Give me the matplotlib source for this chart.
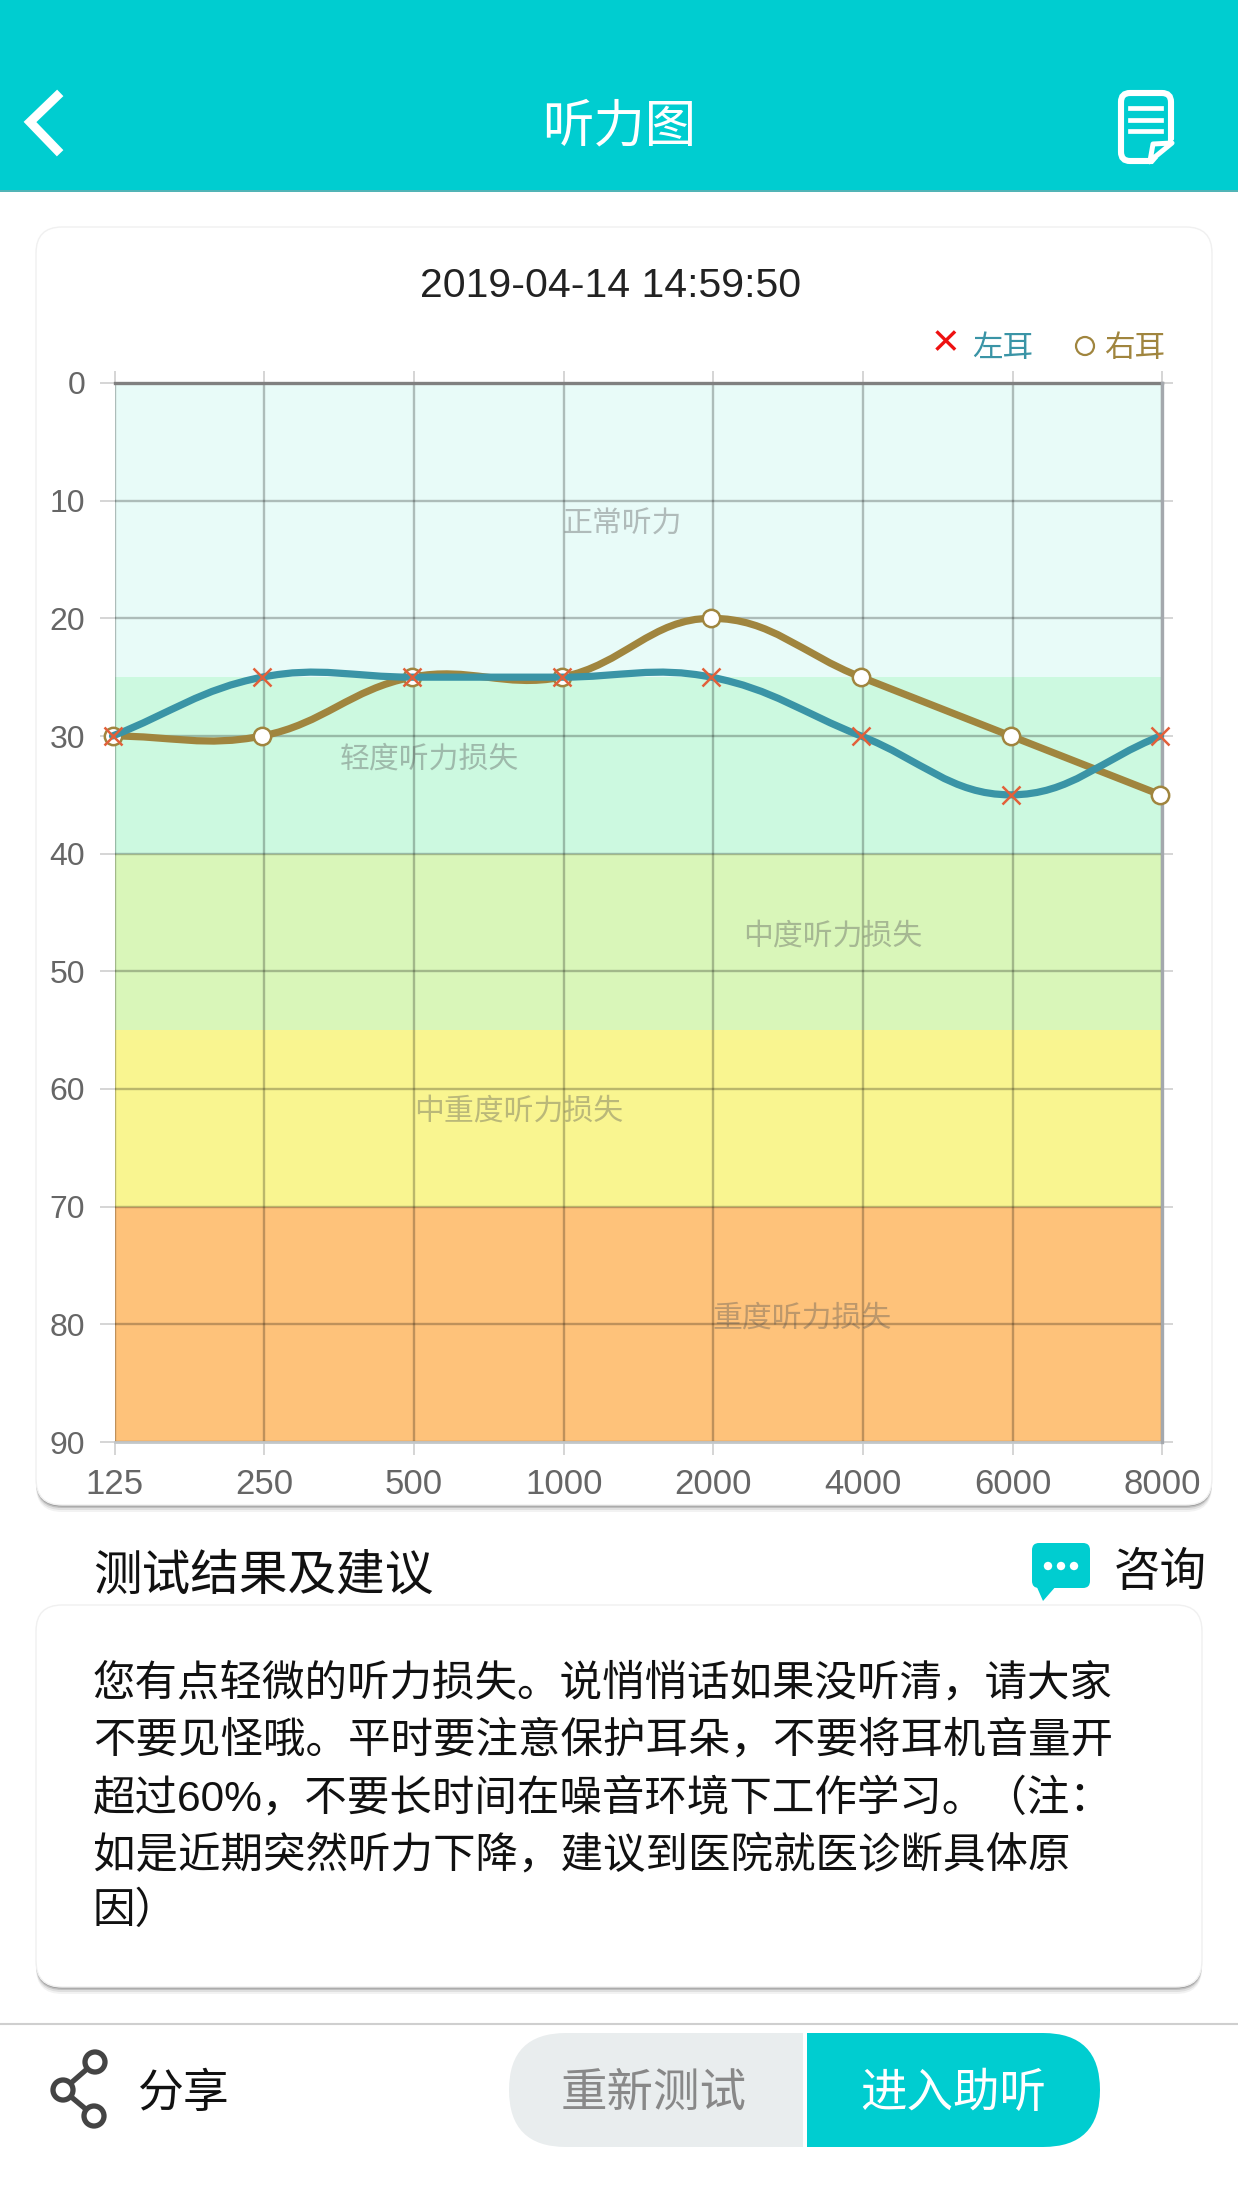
import matplotlib
matplotlib.use("Agg")
import matplotlib.pyplot as plt
from matplotlib.patches import FancyBboxPatch, PathPatch, Circle, Rectangle, Polygon
from matplotlib.path import Path
from matplotlib.transforms import Affine2D

plt.rcParams['font.family'] = ['Liberation Sans', 'Noto Sans CJK SC', 'DejaVu Sans']

# ---------- data ----------
freqs = ['125', '250', '500', '1000', '2000', '4000', '6000', '8000']
left_ear = [30, 25, 25, 25, 25, 30, 35, 30]
right_ear = [30, 30, 25, 25, 20, 25, 30, 35]
band_edges = [0, 25, 40, 55, 70, 90]
band_names = ['正常听力', '轻度听力损失', '中度听力损失', '中重度听力损失', '重度听力损失']
band_colors = ['#e8fbf8', '#ccf9e0', '#d9f6b9', '#f9f590', '#fec27a']
y_ticks = [0, 10, 20, 30, 40, 50, 60, 70, 80, 90]
advice_lines = [
    '您有点轻微的听力损失。说悄悄话如果没听清\uff0c请大家',
    '不要见怪哦。平时要注意保护耳朵\uff0c不要将耳机音量开',
    '超过60%\uff0c不要长时间在噪音环境下工作学习。\uff08注\uff1a',
    '如是近期突然听力下降\uff0c建议到医院就医诊断具体原',
    '因\uff09',
]
title = '听力图'
stamp = '2019-04-14 14:59:50'

# ---------- style / layout ----------
W, H = 1238, 2204
TEAL = '#00cdd0'
LINE_L = '#3a94a6'
LINE_R = '#a0853e'
MARK_X = '#e2603a'
PX_L, PX_R, PX_T, PX_B = 114.5, 1162.5, 383, 1442
band_label_xy = [(622, 525), (429, 760), (833, 937), (519, 1112), (802, 1319)]
advice_y = [1684, 1741, 1799, 1856, 1912]

fig = plt.figure(figsize=(W / 100, H / 100), dpi=100, facecolor='white')
bg = fig.add_axes([0, 0, 1, 1], zorder=0)
bg.set_xlim(0, W)
bg.set_ylim(H, 0)
bg.axis('off')


def card(x0, y0, x1, y1, r=26):
    for off, a in [(7, 0.05), (5, 0.08), (3, 0.14), (1.5, 0.2)]:
        bg.add_patch(FancyBboxPatch((x0 + r, y0 + r + off), x1 - x0 - 2 * r, y1 - y0 - 2 * r,
                                    boxstyle=f'round,pad={r},rounding_size={r}',
                                    fc='black', ec='none', alpha=a))
    bg.add_patch(FancyBboxPatch((x0 + r, y0 + r), x1 - x0 - 2 * r, y1 - y0 - 2 * r,
                                boxstyle=f'round,pad={r},rounding_size={r}',
                                fc='white', ec='#f0f0f0', lw=1))


# header
bg.add_patch(Rectangle((0, 0), W, 190, fc=TEAL, ec='none'))
bg.plot([0, W], [191, 191], color='#2fa6a8', lw=1.2)
bg.text(619, 128, title, color='white', fontsize=37, ha='center', va='center')
bg.plot([57, 30, 57], [96, 122, 150], color='white', lw=6.5, solid_joinstyle='miter')
bg.add_patch(FancyBboxPatch((1121, 93), 50, 68, boxstyle='round,pad=0,rounding_size=9',
                            fc='none', ec='white', lw=4.4))
for yy in [108, 120, 131]:
    bg.plot([1130, 1161], [yy, yy], color='white', lw=3.4)
bg.add_patch(Polygon([(1152, 165), (1178, 135), (1178, 165)], fc=TEAL, ec='none'))
bg.plot([1150, 1153, 1172, 1150], [161, 144, 143, 161], color='white', lw=3.6)

# cards
card(36, 227, 1212, 1505)
card(36, 1605, 1202, 1987)

bg.text(611, 286, stamp, fontsize=29.5, color='#222222', ha='center', va='center')

# legend
bg.text(946, 344, '×', fontsize=34, color='#ee1111', ha='center', va='center')
bg.text(1003, 349, '左耳', fontsize=22, color=LINE_L, ha='center', va='center')
bg.add_patch(Circle((1085, 346), 9, fc='white', ec=LINE_R, lw=1.6))
bg.text(1135, 349, '右耳', fontsize=22, color=LINE_R, ha='center', va='center')

# section heading
bg.text(93, 1577, '测试结果及建议', fontsize=35, color='#111111', ha='left', va='center')
bg.add_patch(FancyBboxPatch((1032, 1543), 58, 45, boxstyle='round,pad=0,rounding_size=7',
                            fc=TEAL, ec='none'))
bg.add_patch(Polygon([(1036, 1585), (1057, 1585), (1043, 1601)], fc=TEAL, ec='none'))
for xx in [1048, 1061, 1074]:
    bg.add_patch(Circle((xx, 1566), 4.2, fc='white', ec='none'))
bg.text(1114, 1574, '咨询', fontsize=33.5, color='#111111', ha='left', va='center')

# advice
for line, yy in zip(advice_lines, advice_y):
    bg.text(93, yy, line, fontsize=30.6, color='#111111', ha='left', va='center')

# footer
bg.plot([0, W], [2024, 2024], color='#cfcfcf', lw=1.5)
pts = [(95, 2062), (63, 2090), (94, 2116)]
bg.plot([pts[0][0], pts[1][0], pts[2][0]], [pts[0][1], pts[1][1], pts[2][1]], color='#444444', lw=3.8)
for p in pts:
    bg.add_patch(Circle(p, 10, fc='white', ec='#444444', lw=3.8, zorder=3))
bg.text(138, 2095, '分享', fontsize=33, color='#111111', ha='left', va='center')


def pill(x0, x1, y0, y1, color, rounded_left):
    r = (y1 - y0) / 2
    if rounded_left:
        verts = [(x1, y0), (x0 + r, y0), (x0, y0), (x0, y0 + r), (x0, y1), (x0 + r, y1), (x1, y1), (x1, y0)]
    else:
        verts = [(x0, y0), (x1 - r, y0), (x1, y0), (x1, y0 + r), (x1, y1), (x1 - r, y1), (x0, y1), (x0, y0)]
    codes = [Path.MOVETO, Path.LINETO, Path.CURVE3, Path.CURVE3, Path.CURVE3, Path.CURVE3, Path.LINETO, Path.CLOSEPOLY]
    bg.add_patch(PathPatch(Path(verts, codes), fc=color, ec='none'))


pill(509, 803, 2033, 2147, '#e9edee', True)
pill(807, 1100, 2033, 2147, TEAL, False)
bg.text(654, 2095, '重新测试', fontsize=33.5, color='#888888', ha='center', va='center')
bg.text(953, 2095, '进入助听', fontsize=33.5, color='white', ha='center', va='center')

# ---------- chart ----------
ax = fig.add_axes([PX_L / W, 1 - PX_B / H, (PX_R - PX_L) / W, (PX_B - PX_T) / H], zorder=2)
ax.patch.set_alpha(0)
xs = list(range(len(freqs)))
ax.set_xlim(xs[0], xs[-1])
ax.set_ylim(y_ticks[-1], y_ticks[0])

for lo, hi, c in zip(band_edges[:-1], band_edges[1:], band_colors):
    ax.axhspan(lo, hi, fc=c, ec='none', zorder=0)

ax.set_xticks(xs)
ax.set_xticklabels(freqs)
ax.set_yticks(y_ticks)
ax.grid(True, color='black', alpha=0.25, lw=1.7, zorder=1)
for g in ax.get_xgridlines() + ax.get_ygridlines():
    g.set_zorder(1)
ax.tick_params(axis='x', top=True, bottom=True, length=9, width=1.4, color='#d5d5d5',
               labelsize=25, labelcolor='#666666', pad=10)
ax.tick_params(axis='y', left=True, right=True, length=11, width=1.4, color='#d5d5d5',
               labelsize=23, labelcolor='#666666', pad=10)
for t in ax.yaxis.get_major_ticks():
    t.tick2line.set_markersize(7)
for s in ax.spines.values():
    s.set_visible(False)
ax.plot([xs[0], xs[-1]], [0, 0], color='#808080', lw=2.4, zorder=2, clip_on=False)
ax.plot([xs[0], xs[-1]], [90, 90], color='#c2c6c8', lw=2, zorder=2, clip_on=False)
ax.plot([xs[-1], xs[-1]], [0, 90], color='#a4a8ad', lw=2.4, zorder=2, clip_on=False)

# labels of the hearing bands
for name, (px, py) in zip(band_names, band_label_xy):
    ax.text(px, py, name, transform=bg.transData, fontsize=21.5, color='#555555', alpha=0.38,
            ha='center', va='center', zorder=3)

sx = (PX_R - PX_L) / (xs[-1] - xs[0])
sy = (PX_B - PX_T) / (y_ticks[-1] - y_ticks[0])


def spline_path(vx, vy, t=0.4):
    n = len(vx)
    ctrl = []
    for i in range(n):
        p = max(i - 1, 0)
        q = min(i + 1, n - 1)
        d0 = ((vx[i] - vx[p]) ** 2 * sx ** 2 + (vy[i] - vy[p]) ** 2 * sy ** 2) ** 0.5
        d1 = ((vx[q] - vx[i]) ** 2 * sx ** 2 + (vy[q] - vy[i]) ** 2 * sy ** 2) ** 0.5
        tot = (d0 + d1) or 1
        fa, fb = t * d0 / tot, t * d1 / tot
        dx, dy = vx[q] - vx[p], vy[q] - vy[p]
        ctrl.append(((vx[i] - fa * dx, vy[i] - fa * dy), (vx[i] + fb * dx, vy[i] + fb * dy)))
    verts = [(vx[0], vy[0])]
    codes = [Path.MOVETO]
    for i in range(n - 1):
        verts += [ctrl[i][1], ctrl[i + 1][0], (vx[i + 1], vy[i + 1])]
        codes += [Path.CURVE4] * 3
    return Path(verts, codes)


trans = ax.transData + Affine2D().translate(-2, 0)

ax.add_patch(PathPatch(spline_path(xs, right_ear), fc='none', ec=LINE_R, lw=5.2,
                       transform=trans, zorder=4, clip_on=False, capstyle='round'))
ax.plot(xs, right_ear, ls='none', marker='o', ms=12.5, mfc='white', mec=LINE_R, mew=1.8,
        transform=trans, zorder=5, clip_on=False)
ax.add_patch(PathPatch(spline_path(xs, left_ear), fc='none', ec=LINE_L, lw=5.2,
                       transform=trans, zorder=6, clip_on=False, capstyle='round'))
ax.plot(xs, left_ear, ls='none', marker='x', ms=12.5, mec=MARK_X, mew=1.8,
        transform=trans, zorder=7, clip_on=False)

fig.savefig('out.png', dpi=100, facecolor='white')
